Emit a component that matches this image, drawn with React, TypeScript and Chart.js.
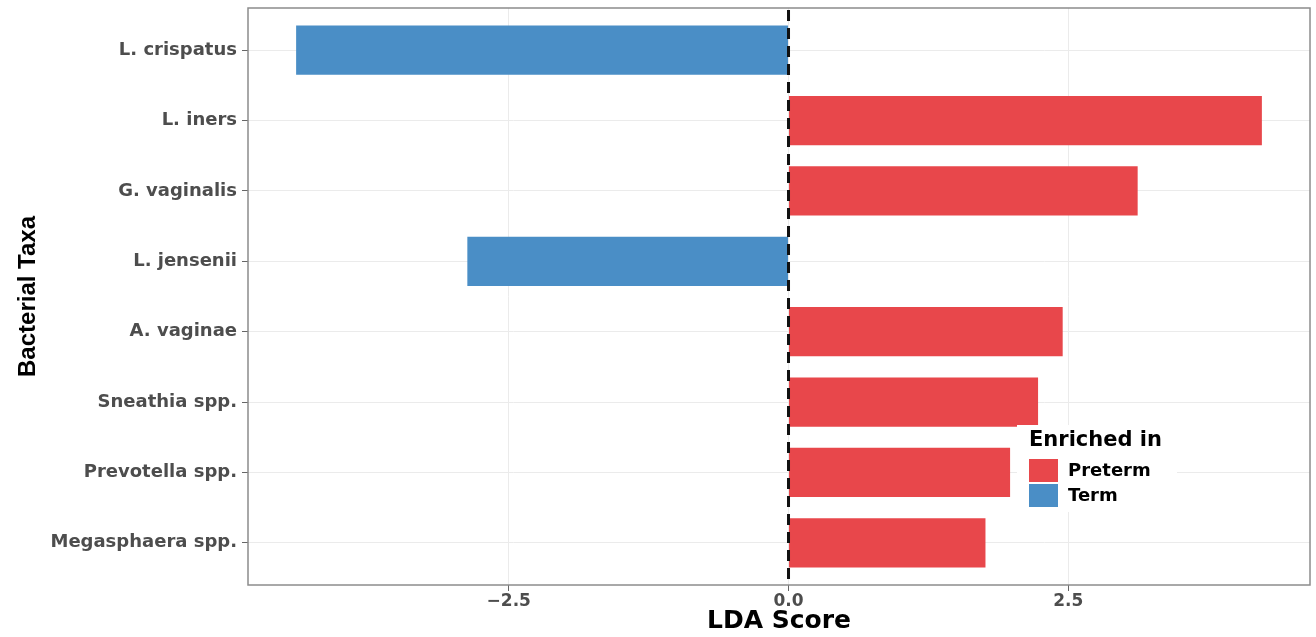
import React, { useEffect, useRef } from "react";
import { Chart, registerables } from "chart.js";

Chart.register(...registerables);

// ---- data ----
const categories = [
  "L. crispatus",
  "L. iners",
  "G. vaginalis",
  "L. jensenii",
  "A. vaginae",
  "Sneathia spp.",
  "Prevotella spp.",
  "Megasphaera spp.",
];
const ldaScores = [-4.4, 4.23, 3.12, -2.87, 2.45, 2.23, 1.98, 1.76];
const enrichedIn = ["Term", "Preterm", "Preterm", "Term", "Preterm", "Preterm", "Preterm", "Preterm"];
const groups = ["Preterm", "Term"];
const groupColors = ["#E8474B", "#4A8EC6"];
const xTickValues = [-2.5, 0, 2.5];
const xTickLabels = ["\u22122.5", "0.0", "2.5"];
const legendTitle = "Enriched in";
const xTitle = "LDA Score";
const yTitle = "Bacterial Taxa";

const TICK_FONT = "'DejaVu Sans', 'Liberation Sans', Arial, sans-serif";

export default function App() {
  const ref = useRef<HTMLCanvasElement | null>(null);

  useEffect(() => {
    document.body.style.margin = "0";
    const canvas = ref.current;
    if (!canvas) return;

    const datasets = groups.map((g, gi) => ({
      label: g,
      data: categories
        .map((_, i) => ({ x: ldaScores[i], y: i, g: enrichedIn[i] }))
        .filter((d) => d.g === g)
        .map((d) => ({ x: d.x, y: d.y })),
      backgroundColor: groupColors[gi],
      borderWidth: 0,
      grouped: false,
      barPercentage: 0.7,
      categoryPercentage: 1,
    }));

    const overlay = {
      id: "overlay",
      afterDatasetsDraw(chart: any) {
        const { ctx, chartArea, scales } = chart;
        const xs = scales.x;
        const x0 = xs.getPixelForValue(0);
        ctx.save();
        // dashed zero line
        ctx.beginPath();
        ctx.setLineDash([11, 7]);
        ctx.lineWidth = 3;
        ctx.strokeStyle = "#111111";
        ctx.moveTo(x0, chartArea.top + 2);
        ctx.lineTo(x0, chartArea.bottom);
        ctx.stroke();
        ctx.setLineDash([]);

        // legend (inside panel)
        const lx = 1017;
        const ly = 425;
        ctx.fillStyle = "#ffffff";
        ctx.fillRect(lx, ly, 160, 87);
        ctx.fillStyle = "#000000";
        ctx.font = `bold 21px ${TICK_FONT}`;
        ctx.textBaseline = "middle";
        ctx.textAlign = "left";
        ctx.fillText(legendTitle, lx + 12, ly + 16);
        groups.forEach((g, gi) => {
          const ky = ly + 34 + gi * 25;
          ctx.fillStyle = groupColors[gi];
          ctx.fillRect(lx + 12, ky, 29, 23);
          ctx.fillStyle = "#000000";
          ctx.font = `bold 18px ${TICK_FONT}`;
          ctx.fillText(g, lx + 51, ky + 12);
        });

        // panel border
        ctx.strokeStyle = "#8c8c8c";
        ctx.lineWidth = 1.5;
        ctx.strokeRect(
          chartArea.left,
          chartArea.top,
          chartArea.right - chartArea.left,
          chartArea.bottom - chartArea.top
        );
        ctx.restore();
      },
    };

    const chart = new Chart(canvas, {
      type: "bar",
      data: { datasets: datasets as any },
      options: {
        animation: false,
        responsive: false,
        indexAxis: "y",
        layout: { padding: { top: 8, right: 6, bottom: 0, left: 0 } },
        plugins: {
          legend: { display: false },
          tooltip: { enabled: false },
        },
        scales: {
          x: {
            type: "linear",
            min: -4.83,
            max: 4.66,
            offset: false,
            afterBuildTicks: (s: any) => {
              s.ticks = xTickValues.map((v) => ({ value: v }));
            },
            afterFit: (s: any) => {
              s.height = 52;
              s.paddingLeft = 0;
              s.paddingRight = 0;
            },
            ticks: {
              autoSkip: false,
              maxRotation: 0,
              padding: 0,
              color: "#4D4D4D",
              font: { family: TICK_FONT, size: 17, weight: "bold" },
              callback: (v: any) => {
                const i = xTickValues.indexOf(Number(v));
                return i >= 0 ? xTickLabels[i] : "";
              },
            },
            grid: {
              color: "#EBEBEB",
              lineWidth: 1,
              offset: false,
              tickColor: "#666666",
              tickLength: 6,
            },
            border: { display: false },
            title: {
              display: true,
              text: xTitle,
              color: "#000000",
              font: { family: TICK_FONT, size: 25, weight: "bold" },
              padding: { top: 0, bottom: 1 },
            },
          },
          y: {
            type: "linear",
            min: -0.6,
            max: 7.6,
            reverse: true,
            offset: false,
            afterBuildTicks: (s: any) => {
              s.ticks = categories.map((_, i) => ({ value: i }));
            },
            afterFit: (s: any) => {
              s.width = 248;
              s.paddingTop = 0;
              s.paddingBottom = 0;
            },
            ticks: {
              autoSkip: false,
              padding: 5,
              color: "#4D4D4D",
              font: { family: TICK_FONT, size: 18, weight: "bold" },
              callback: (v: any) => categories[Number(v)] ?? "",
            },
            grid: {
              color: "#EBEBEB",
              lineWidth: 1,
              offset: false,
              tickColor: "#666666",
              tickLength: 6,
            },
            border: { display: false },
            title: {
              display: true,
              text: yTitle,
              color: "#000000",
              font: { family: "'Liberation Sans', Arial, sans-serif", size: 24, weight: "bold" },
              padding: { top: 14, bottom: 0 },
            },
          },
        },
      },
      plugins: [overlay],
    });

    return () => chart.destroy();
  }, []);

  return (
    <div style={{ width: 1316, height: 637 }}>
      <canvas ref={ref} width={1316} height={637} style={{ display: "block" }} />
    </div>
  );
}
